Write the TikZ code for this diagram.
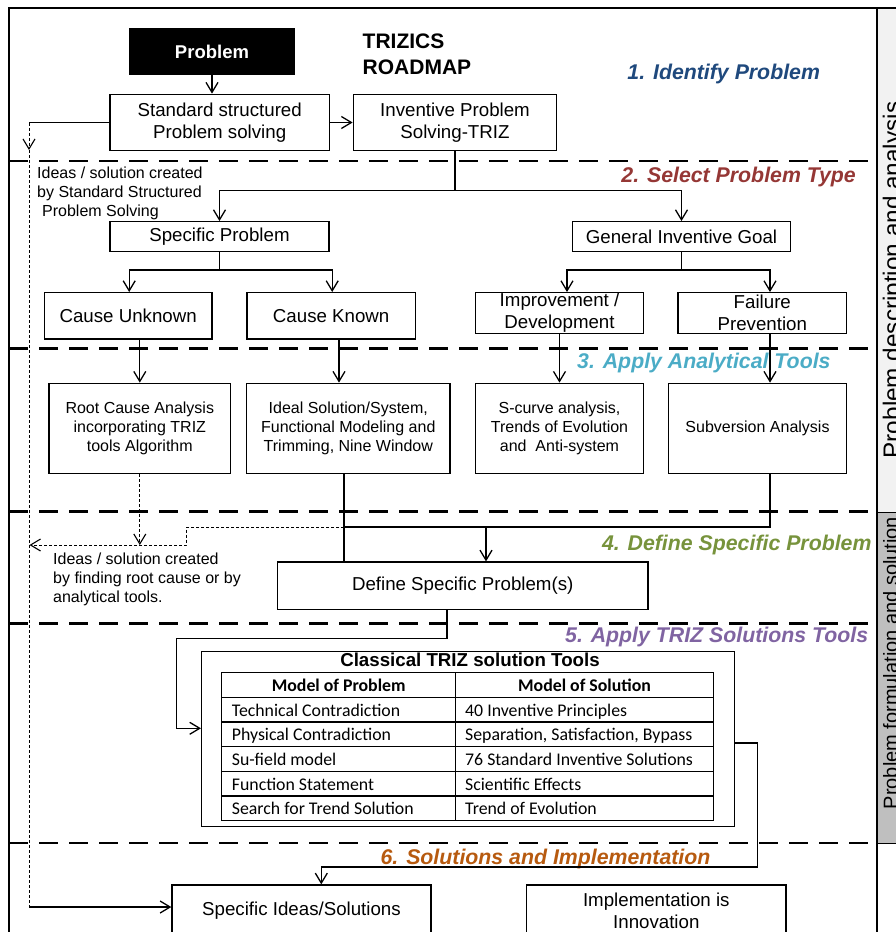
\documentclass[tikz,border=0pt]{standalone}
\usepackage{fontspec}
\setmainfont{Liberation Sans}
\newfontfamily\calfont{Carlito}
\usetikzlibrary{arrows.meta}
\definecolor{cA}{HTML}{1F497D}
\definecolor{cB}{HTML}{953735}
\definecolor{cC}{HTML}{4BACC6}
\definecolor{cD}{HTML}{77933C}
\definecolor{cE}{HTML}{8064A2}
\definecolor{cF}{RGB}{183,90,15}
\definecolor{stripA}{HTML}{F2F2F2}
\definecolor{stripB}{HTML}{BFBFBF}
\newcommand\fA{\fontsize{18.7}{21.7}\selectfont}
\newcommand\fB{\fontsize{16}{19}\selectfont}
\begin{document}
\begin{tikzpicture}[x=1pt,y=-1pt,
  ln/.style={line width=1.3pt},
  arr/.style={line width=1.3pt,-{Straight Barb[length=10pt,width=12pt]}},
  tdash/.style={line width=1pt,dash pattern=on 3pt off 2pt},
  tdasharr/.style={tdash,-{Straight Barb[length=10pt,width=12pt,line width=1.1pt]}},
  sepline/.style={line width=2.5pt,dash pattern=on 19pt off 11pt},
  box/.style={draw,line width=1.3pt,inner sep=0pt,align=center,font=\fA},
  sbox/.style={draw,line width=1.3pt,inner sep=0pt,align=center,font=\fB},
  lab/.style={inner sep=0pt,font=\fontsize{21.3}{25}\selectfont\bfseries\itshape},
  note/.style={inner sep=0pt,align=left,anchor=north west},
  cell/.style={inner sep=0pt,anchor=base west,font=\fontsize{17.8}{20}\selectfont\calfont},
  hcell/.style={inner sep=0pt,anchor=base,font=\fontsize{17.8}{20}\selectfont\calfont\bfseries},
  striptext/.style={rotate=90,anchor=base,inner sep=0pt}
]
\useasboundingbox (0,0) rectangle (895,932);

% right strip
\fill[stripA] (877,8) rectangle (905,512);
\fill[stripB] (877,512) rectangle (905,843);
\draw[line width=1pt] (877,512) -- (905,512);
\draw[line width=1pt] (877,843) -- (905,843);
\node[striptext,font=\fontsize{24.3}{28}\selectfont] (s1) at (900.4,280) {Problem description and analysis};
\node[striptext,font=\fontsize{20}{23}\selectfont] (s2) at (897.5,663) {Problem formulation and solution};

% frame
\draw[line width=1.8pt] (9,960) -- (9,8) -- (905,8);
\draw[line width=1.5pt] (877,8) -- (877,960);

% separators
\draw[sepline] (9,161) -- (877,161);
\draw[sepline] (9,348.3) -- (877,348.3);
\draw[sepline] (9,511.7) -- (877,511.7);
\draw[sepline] (9,623.3) -- (877,623.3);
\draw[sepline] (9,843) -- (877,843);

% section labels
\node[lab,text=cA,anchor=base] (l1) at (723.7,79) {1. Identify Problem};
\node[lab,text=cB,anchor=base east] (l2) at (856,182.7) {2. Select Problem Type};
\node[lab,text=cC,anchor=base east] (l3) at (830.7,368) {3. Apply Analytical Tools};
\node[lab,text=cD,anchor=base east] (l4) at (871.7,550.7) {4. Define Specific Problem};
\node[lab,text=cE,anchor=base east] (l5) at (868.3,642.7) {5. Apply TRIZ Solutions Tools};
\node[lab,text=cF,anchor=base east] (l6) at (710.6,864) {6. Solutions and Implementation};

% title
\node[inner sep=0pt,anchor=west,align=left,font=\fontsize{21}{25.7}\selectfont\bfseries] (title) at (362.5,54) {TRIZICS\\ROADMAP};

% boxes
\node[box,fill=black,text=white,font=\fontsize{18.5}{21}\selectfont\bfseries,minimum width=164pt,minimum height=46.4pt] (prob) at (212,51.5) {Problem};
\node[box,minimum width=219.3pt,minimum height=56.4pt] (std) at (219.7,122.5) {Standard structured\\Problem solving};
\node[box,minimum width=203.4pt,minimum height=56.4pt] (inv) at (455,122.5) {Inventive Problem\\Solving-TRIZ};
\node[box,minimum width=219pt,minimum height=30pt] (spec) at (219.5,236.7) {Specific Problem};
\node[box,minimum width=218.4pt,minimum height=30pt] (gen) at (681.5,236.7) {General Inventive Goal};
\node[box,minimum width=167.7pt,minimum height=46.3pt] (cu) at (128.2,315.8) {Cause Unknown};
\node[box,minimum width=168.3pt,minimum height=46.3pt] (ck) at (331.2,315.8) {Cause Known};
\node[box,minimum width=167.6pt,minimum height=40.6pt] (imp) at (559.5,313) {Improvement /\\Development};
\node[box,minimum width=168.7pt,minimum height=40.6pt] (fail) at (762.3,313) {Failure\\Prevention};
\node[sbox,minimum width=181.7pt,minimum height=90pt] (rca) at (139.8,428.3) {Root Cause Analysis\\incorporating TRIZ\\tools Algorithm};
\node[sbox,minimum width=203.3pt,minimum height=90pt] (ideal) at (348.3,428.3) {Ideal Solution/System,\\Functional Modeling and\\Trimming, Nine Window};
\node[sbox,minimum width=167.6pt,minimum height=90pt] (scurve) at (559.5,428.3) {S-curve analysis,\\Trends of Evolution\\and\ \ Anti-system};
\node[sbox,minimum width=178.4pt,minimum height=90pt] (subv) at (757.5,428.3) {Subversion Analysis};
\node[box,minimum width=370.6pt,minimum height=47.3pt] (define) at (462.7,585.7) {Define Specific Problem(s)};
\node[box,line width=1.5pt,minimum width=532.6pt,minimum height=175pt] (tools) at (468,739.2) {};
\node[box,minimum width=259pt,minimum height=51pt] (ideas) at (301.5,910.5) {Specific Ideas/Solutions};
\node[box,minimum width=259.5pt,minimum height=51pt] (impl) at (656.3,910.5) {Implementation is\\Innovation};

% notes
\node[note,font=\fB] (note1) at (37,166.5) {Ideas / solution created\\by Standard Structured\\\hspace*{5pt}Problem Solving};
\node[note,font=\fB] (note2) at (53,552.8) {Ideas / solution created\\by finding root cause or by\\analytical tools.};

% table
\node[inner sep=0pt,anchor=base,font=\fontsize{18.7}{21}\selectfont\bfseries] (ttitle) at (470,666.5) {Classical TRIZ solution Tools};
\draw[line width=1.3pt] (221.7,672.7) rectangle (713.3,820.7);
\foreach \yy in {697.3,722.0,746.7,771.3,796.0} \draw[line width=1.3pt] (221.7,\yy) -- (713.3,\yy);
\draw[line width=1.3pt] (455.7,672.7) -- (455.7,820.7);
\node[hcell] (h1) at (338.7,691.5) {Model of Problem};
\node[hcell] (h2) at (584.5,691.5) {Model of Solution};
\node[cell] (a1) at (231.7,716.2) {Technical Contradiction};
\node[cell] (b1) at (465,716.2) {40 Inventive Principles};
\node[cell] (a2) at (231.7,740.9) {Physical Contradiction};
\node[cell] (b2) at (465,740.9) {Separation, Satisfaction, Bypass};
\node[cell] (a3) at (231.7,765.5) {Su-field model};
\node[cell] (b3) at (465,765.5) {76 Standard Inventive Solutions};
\node[cell] (a4) at (231.7,790.2) {Function Statement};
\node[cell] (b4) at (465,790.2) {Scientific Effects};
\node[cell] (a5) at (231.7,814.9) {Search for Trend Solution};
\node[cell] (b5) at (465,814.9) {Trend of Evolution};

% coordinates
\coordinate (j1) at (455,190.5);
\coordinate (j2) at (219.5,270);
\coordinate (j3) at (681.5,270);
\coordinate (j4) at (770,527);
\coordinate (j5) at (344,527);
\coordinate (j6) at (486,527);
\coordinate (j7) at (186.5,527);
\coordinate (j8) at (186.5,545);
\coordinate (j9) at (29.5,545);
\coordinate (k1) at (447,638.3);
\coordinate (k2) at (176.7,638.3);
\coordinate (k3) at (176.7,728.3);
\coordinate (m1) at (757.3,743);
\coordinate (m2) at (757.3,867);
\coordinate (m3) at (321.3,867);
\coordinate (L1) at (29,122.5);
\coordinate (L2) at (29,150);
\coordinate (L3) at (29,907);

% connectors
\draw[arr] (prob.south) -- (prob.south |- std.north);
\draw[arr] (std.east) -- (inv.west);
\draw[ln] (inv.south) -- (j1);
\draw[arr] (j1) -| (spec.north);
\draw[arr] (j1) -| (gen.north);
\draw[ln] (spec.south) -- (j2);
\draw[arr] (j2) -| ([xshift=1pt]cu.north);
\draw[arr] (j2) -| ([xshift=1pt]ck.north);
\draw[ln] (gen.south) -- (j3);
\draw[arr] (j3) -| ([xshift=7.5pt]imp.north);
\draw[arr] (j3) -| ([xshift=7.7pt]fail.north);
\draw[arr] (rca.north |- cu.south) -- (rca.north);
\draw[arr] ([xshift=7.8pt]ck.south) -- ([xshift=7.8pt]ck.south |- ideal.north);
\draw[arr] (imp.south) -- (imp.south |- scurve.north);
\draw[arr] ([xshift=7.7pt]fail.south) -- ([xshift=7.7pt]fail.south |- subv.north);
\draw[ln] (j5 |- ideal.south) -- (j5 |- define.north);
\draw[ln] (j4 |- subv.south) -- (j4) -- (j5);
\draw[arr] (j6) -- (j6 |- define.north);
\draw[tdasharr] (j5) -- (j7) -- (j8) -- (j9);
\draw[tdasharr] (rca.south) -- (rca.south |- j8);
\draw[arr] (k1 |- define.south) -- (k1) -- (k2) -- (k3) -- (k3 -| tools.west);
\draw[arr] (m1 -| tools.east) -- (m1) -- (m2) -- (m3) -- (m3 |- ideas.north);
\draw[ln] (std.west) -- (L1);
\draw[tdasharr] (L1) -- (L2);
\draw[tdash] (L2) -- (L3);
\draw[arr] (L3) -- (L3 -| ideas.west);
\end{tikzpicture}
\end{document}
